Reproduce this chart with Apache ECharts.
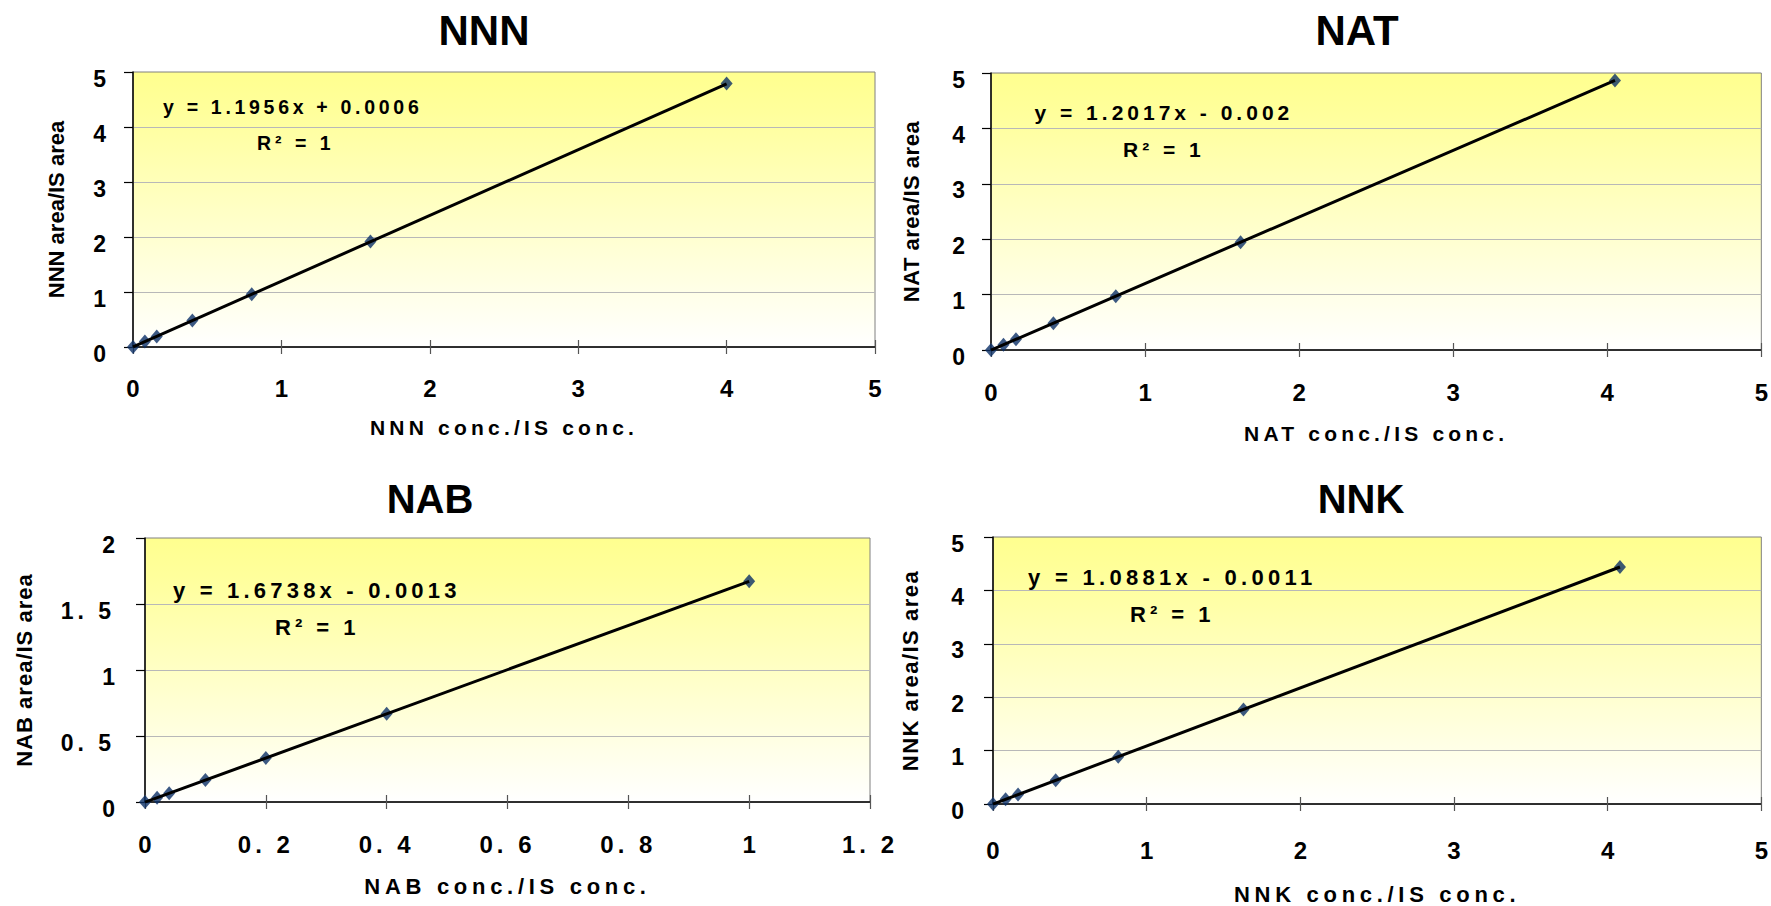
<!DOCTYPE html>
<html><head><meta charset="utf-8">
<script src="https://cdn.jsdelivr.net/npm/echarts@6/dist/echarts.min.js"></script>
<style>html,body{margin:0;padding:0;background:#fff}#chart{width:1771px;height:906px}</style>
</head><body><div id="chart"></div>
<script>
// ---------- data ----------
const chartTitles = ['NNN', 'NAT', 'NAB', 'NNK'];
const xAxisTitles = ['NNN conc./IS conc.', 'NAT conc./IS conc.', 'NAB conc./IS conc.', 'NNK conc./IS conc.'];
const yAxisTitles = ['NNN area/IS area', 'NAT area/IS area', 'NAB area/IS area', 'NNK area/IS area'];
const equations = ['y = 1.1956x + 0.0006', 'y = 1.2017x - 0.002', 'y = 1.6738x - 0.0013', 'y = 1.0881x - 0.0011'];
const rSquaredText = 'R² = 1';

const nnnX = [0, 0.08, 0.16, 0.4, 0.8, 1.6, 4.0];
const nnnY = [0, 0.1, 0.19, 0.48, 0.96, 1.92, 4.79];
const natX = [0, 0.081, 0.162, 0.405, 0.81, 1.62, 4.05];
const natY = [0, 0.095, 0.193, 0.485, 0.97, 1.945, 4.865];
const nabX = [0, 0.02, 0.04, 0.1, 0.2, 0.4, 1.0];
const nabY = [0, 0.032, 0.066, 0.166, 0.334, 0.668, 1.673];
const nnkX = [0, 0.082, 0.163, 0.408, 0.815, 1.63, 4.08];
const nnkY = [0, 0.088, 0.177, 0.443, 0.886, 1.772, 4.44];

// trend line end points
const nnnTrendX = [0, 4.0],  nnnTrendY = [0.0006, 4.783];
const natTrendX = [0, 4.05], natTrendY = [-0.002, 4.865];
const nabTrendX = [0, 1.0],  nabTrendY = [-0.0013, 1.672];
const nnkTrendX = [0, 4.08], nnkTrendY = [-0.0011, 4.438];

// tick labels
const ticks0to5 = ['0', '1', '2', '3', '4', '5'];
const nabXTicks = ['0', '0. 2', '0. 4', '0. 6', '0. 8', '1', '1. 2'];
const nabYTicks = ['0', '0. 5', '1', '1. 5', '2'];

// ---------- layout / style ----------
const FONT = "'Liberation Sans', Arial, Helvetica, sans-serif";
const panels = [
  { xs: nnnX, ys: nnnY, tx: nnnTrendX, ty: nnnTrendY, xMax: 5, xInt: 1, yMax: 5, yInt: 1, xTicks: ticks0to5, yTicks: ticks0to5,
    grid: { left: 133, top: 72, width: 742, height: 275 },
    title: [484, 30, 42], eq: [163, 107, 19.5], r2: [257, 142.5],
    xNameGap: 70, xNameSize: 21, yNameGap: 66, xLabMargin: 29.5, yLabMargin: 27 },
  { xs: natX, ys: natY, tx: natTrendX, ty: natTrendY, xMax: 5, xInt: 1, yMax: 5, yInt: 1, xTicks: ticks0to5, yTicks: ticks0to5,
    grid: { left: 991, top: 73, width: 774, height: 277 },
    title: [1357, 30, 42], eq: [1034.5, 112.5, 21], r2: [1123, 149],
    xNameGap: 73, xNameSize: 21, yNameGap: 69, xLabMargin: 30.5, yLabMargin: 26 },
  { xs: nabX, ys: nabY, tx: nabTrendX, ty: nabTrendY, xMax: 1.2, xInt: 0.2, yMax: 2, yInt: 0.5, xTicks: nabXTicks, yTicks: nabYTicks,
    grid: { left: 145, top: 538, width: 725, height: 264 },
    title: [430, 499, 40], eq: [173, 590, 22], r2: [275, 627],
    xNameGap: 73.5, xNameSize: 22, yNameGap: 110, xLabMargin: 30.5, yLabMargin: 30 },
  { xs: nnkX, ys: nnkY, tx: nnkTrendX, ty: nnkTrendY, xMax: 5, xInt: 1, yMax: 5, yInt: 1, xTicks: ticks0to5, yTicks: ticks0to5,
    grid: { left: 993, top: 537, width: 772, height: 269 },
    title: [1361, 499, 40], eq: [1028, 577, 22], r2: [1130, 614],
    xNameGap: 79, xNameSize: 22, yNameGap: 72, xLabMargin: 34, yLabMargin: 29 }
];

const spacing = {};
xAxisTitles.forEach((t, i) => spacing[t] = [4.2, 4.2, 4.7, 4.7][i]);
yAxisTitles.forEach((t, i) => spacing[t] = [0, 0.5, 1, 1.5][i]);
equations.forEach((t, i) => spacing[t] = [3.7, 4.0, 4.2, 4.3][i]);
spacing[rSquaredText] = 4;

const grids = [], xAxes = [], yAxes = [], series = [], graphics = [];
panels.forEach((p, i) => {
  grids.push(Object.assign({
    show: true,
    backgroundColor: { type: 'linear', x: 0, y: 0, x2: 0, y2: 1,
      colorStops: [{ offset: 0, color: '#ffff8f' }, { offset: 0.15, color: '#ffff9c' }, { offset: 1, color: '#ffffff' }] },
    borderColor: '#808080', borderWidth: 1
  }, p.grid));
  const tickFmt = (arr, step) => (v) => arr[Math.round(v / step)];
  xAxes.push({
    type: 'value', gridIndex: i, position: 'bottom', min: 0, max: p.xMax, interval: p.xInt,
    name: xAxisTitles[i], nameLocation: 'middle', nameGap: p.xNameGap,
    nameTextStyle: { fontFamily: FONT, fontWeight: 'bold', fontSize: p.xNameSize, color: '#000' },
    axisLine: { show: true, onZero: false, lineStyle: { color: '#000', width: 1.5 } },
    axisTick: { show: true, inside: true, length: 7, lineStyle: { color: '#555', width: 1.2 } },
    axisLabel: { show: true, margin: p.xLabMargin, fontFamily: FONT, fontWeight: 'bold', fontSize: 24, color: '#000',
      formatter: tickFmt(p.xTicks, p.xInt), showMaxLabel: true, showMinLabel: true },
    splitLine: { show: false }
  });
  xAxes.push({
    type: 'value', gridIndex: i, position: 'bottom', min: 0, max: p.xMax, interval: p.xInt,
    axisLine: { show: false, onZero: false },
    axisTick: { show: true, inside: false, length: 7, lineStyle: { color: '#555', width: 1.2 } },
    axisLabel: { show: false }, splitLine: { show: false }
  });
  yAxes.push({
    type: 'value', gridIndex: i, min: 0, max: p.yMax, interval: p.yInt,
    name: yAxisTitles[i], nameLocation: 'middle', nameGap: p.yNameGap, nameRotate: 90,
    nameTextStyle: { fontFamily: FONT, fontWeight: 'bold', fontSize: 22, color: '#000' },
    axisLine: { show: true, onZero: false, lineStyle: { color: '#000', width: 1.5 } },
    axisTick: { show: true, inside: false, length: 9, lineStyle: { color: '#000', width: 1.2 } },
    axisLabel: { margin: p.yLabMargin, fontFamily: FONT, fontWeight: 'bold', fontSize: 23, color: '#000',
      verticalAlign: 'top', lineHeight: 13, formatter: tickFmt(p.yTicks, p.yInt), showMaxLabel: true },
    splitLine: { show: true, showMaxLine: false, lineStyle: { color: '#b8b8b8', width: 1 } }
  });
  series.push({
    type: 'scatter', xAxisIndex: 2 * i, yAxisIndex: i,
    data: p.xs.map((x, k) => [x, p.ys[k]]),
    symbol: 'diamond', symbolSize: [12, 14],
    itemStyle: { color: '#0b2f66' }, z: 2
  });
  series.push({
    type: 'line', xAxisIndex: 2 * i, yAxisIndex: i,
    data: p.tx.map((x, k) => [x, p.ty[k]]),
    symbol: 'none', lineStyle: { color: '#000', width: 3 }, z: 3
  });
  graphics.push({ type: 'text', x: p.title[0], y: p.title[1], z: 10,
    style: { text: chartTitles[i], fontFamily: FONT, fontWeight: 'bold', fontSize: p.title[2], fill: '#000',
      align: 'center', verticalAlign: 'middle', textAlign: 'center', textVerticalAlign: 'middle' } });
  graphics.push({ type: 'text', x: p.eq[0], y: p.eq[1], z: 10,
    style: { text: equations[i], fontFamily: FONT, fontWeight: 'bold', fontSize: p.eq[2], fill: '#000',
      align: 'left', verticalAlign: 'middle', textAlign: 'left', textVerticalAlign: 'middle' } });
  graphics.push({ type: 'text', x: p.r2[0], y: p.r2[1], z: 10,
    style: { text: rSquaredText, fontFamily: FONT, fontWeight: 'bold', fontSize: p.eq[2], fill: '#000',
      align: 'left', verticalAlign: 'middle', textAlign: 'left', textVerticalAlign: 'middle' } });
});

const chart = echarts.init(document.getElementById('chart'), null, { renderer: 'svg' });
chart.setOption({
  animation: false,
  backgroundColor: '#ffffff',
  grid: grids, xAxis: xAxes, yAxis: yAxes, series: series,
  graphic: { elements: graphics }
});

function applySpacing() {
  document.querySelectorAll('#chart svg text').forEach(t => {
    const s = t.textContent;
    let sp = spacing[s];
    if (sp === undefined && s.indexOf('. ') >= 0) sp = 4;
    if (sp) t.style.letterSpacing = sp + 'px';
  });
}
chart.on('finished', applySpacing);
applySpacing();
setTimeout(applySpacing, 50);
setTimeout(applySpacing, 300);
</script>
</body></html>
